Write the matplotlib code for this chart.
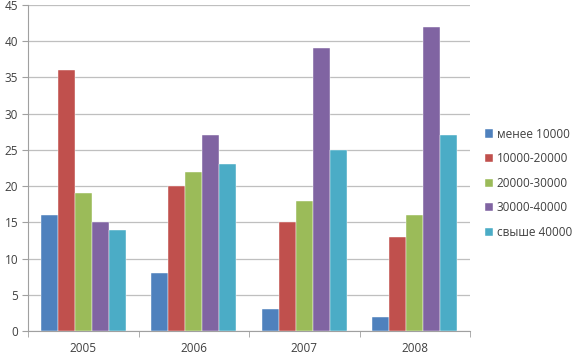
import matplotlib
matplotlib.use("Agg")
import matplotlib.pyplot as plt
import numpy as np

years = ["2005", "2006", "2007", "2008"]
series_names = ["менее 10000", "10000-20000", "20000-30000", "30000-40000", "свыше 40000"]
v_lt10 = [16, 8, 3, 2]
v_10_20 = [36, 20, 15, 13]
v_20_30 = [19, 22, 18, 16]
v_30_40 = [15, 27, 39, 42]
v_gt40 = [14, 23, 25, 27]
series_values = [v_lt10, v_10_20, v_20_30, v_30_40, v_gt40]
colors = ["#4F81BD", "#C0504D", "#9BBB59", "#8064A2", "#4BACC6"]

plt.rcParams['font.family'] = ['Open Sans', 'DejaVu Sans']

fig = plt.figure(figsize=(5.77, 3.57), dpi=100)
ax = fig.add_axes([28/577, 26/357, 442/577, 326/357])

n = len(series_names)
bw = 1/6.5
x = np.arange(len(years))
for i, (name, vals, c) in enumerate(zip(series_names, series_values, colors)):
    ax.bar(x - 2.5*bw + (i+0.5)*bw, vals, width=bw, color=c, label=name,
           edgecolor='white', linewidth=0.3, zorder=3)

ax.set_xlim(-0.5, len(years)-0.5)
ax.set_ylim(0, 45)
ax.set_yticks(np.arange(0, 46, 5))
ax.yaxis.grid(True, color='#BFBFBF', linewidth=0.9, zorder=0)
ax.set_xticks(x)
ax.set_xticklabels(years)
ax.set_xticks(np.arange(-0.5, len(years), 1), minor=True)
ax.tick_params(axis='x', which='major', length=0, pad=8, labelsize=8.5, colors='#404040')
ax.tick_params(axis='x', which='minor', length=4, color='#A0A0A0')
ax.tick_params(axis='y', length=4, color='#A0A0A0', labelsize=8.5, labelcolor='#404040', pad=3)
for s in ['top', 'right']:
    ax.spines[s].set_visible(False)
for s in ['left', 'bottom']:
    ax.spines[s].set_color('#A0A0A0')

ax.legend(loc='upper left', bbox_to_anchor=(452/442, (357-123-26)/326),
          frameon=False, fontsize=8.5, handlelength=0.7, handleheight=0.7,
          handletextpad=0.3, labelspacing=0.98, borderaxespad=0, labelcolor='#404040')

fig.savefig("out.png", dpi=100)
